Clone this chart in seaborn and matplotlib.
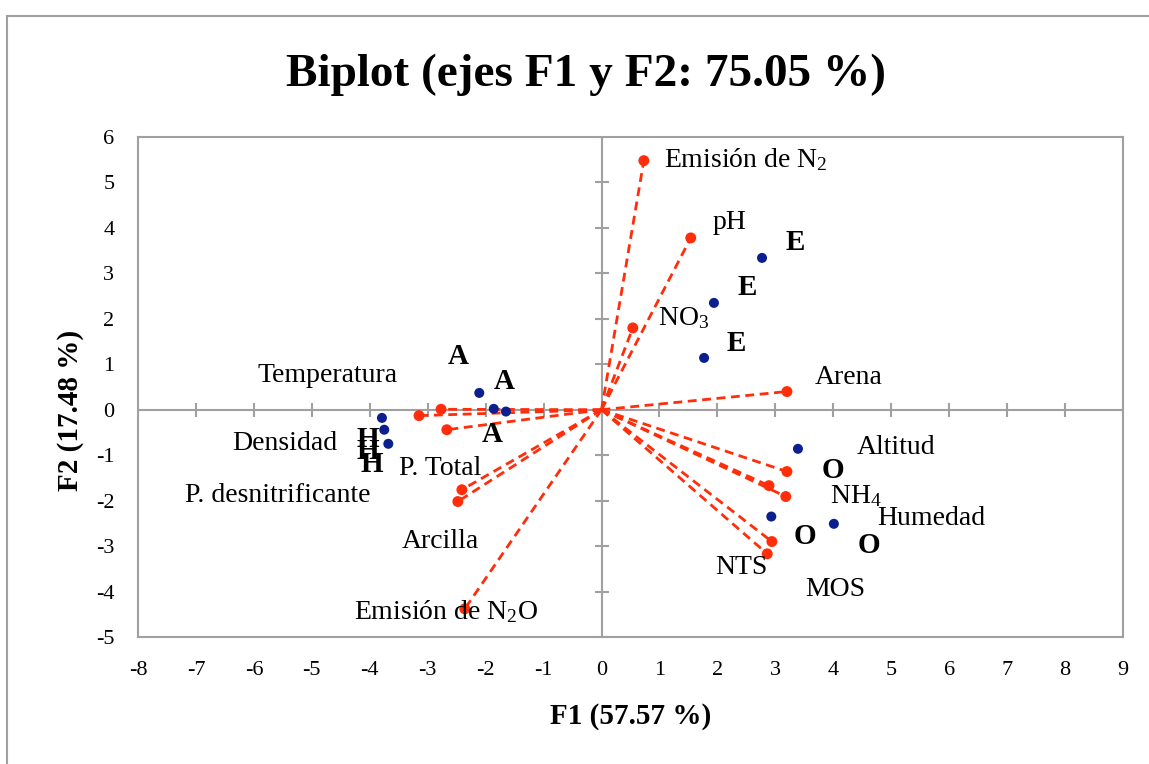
import numpy as np
import pandas as pd
import matplotlib
matplotlib.use("Agg")
import matplotlib.pyplot as plt
import seaborn as sns
from matplotlib.patches import Rectangle

# --- datos del biplot ---
variables = ['Emisión de N$_2$', 'pH', 'NO$_3$', 'Arena', 'Altitud', 'NH$_4$',
             'Humedad', 'MOS', 'NTS', 'Temperatura', 'Densidad', 'P. Total',
             'P. desnitrificante', 'Arcilla', 'Emisión de N$_2$O']
var_f1 = [0.73, 1.54, 0.54, 3.20, 3.20, 2.89, 3.18, 2.94, 2.86,
          -3.15, -2.77, -2.67, -2.41, -2.48, -2.36]
var_f2 = [5.48, 3.78, 1.80, 0.40, -1.36, -1.67, -1.91, -2.90, -3.17,
          -0.13, 0.01, -0.44, -1.76, -2.02, -4.38]

obs_labels = ['A', 'A', 'A', 'H', 'H', 'H', 'E', 'E', 'E', 'O', 'O', 'O']
obs_f1 = [-2.11, -1.86, -1.65, -3.79, -3.75, -3.68, 2.77, 1.94, 1.77, 3.39, 2.93, 4.01]
obs_f2 = [0.37, 0.02, -0.04, -0.18, -0.44, -0.75, 3.34, 2.35, 1.14, -0.86, -2.35, -2.51]

# desplazamiento de las etiquetas (pixeles)
var_offsets = [(20, 1), (22, 15), (25, 10), (28, 14), (70, 24), (61, -11),
               (91, -22), (33, -48), (-52, -14), (-162, 40), (-209, -34),
               (-48, -39), (-277, -6), (-56, -40), (-111, -3)]
obs_offsets = [(-21, 36), (10, 27), (-14, -23), (-14, -22), (-16, -22), (-16, -21),
               (33, 15), (33, 15), (32, 14), (35, -22), (34, -20), (35, -22)]

RED = '#ff2d0a'
BLUE = '#0b1f8f'
GRAY = '#a0a0a0'

sns.set_style("white")
plt.rcParams['font.family'] = ['Liberation Serif', 'DejaVu Serif']
plt.rcParams['mathtext.fontset'] = 'custom'
plt.rcParams['mathtext.rm'] = 'Liberation Serif'
plt.rcParams['mathtext.default'] = 'regular'
plt.rcParams['axes.unicode_minus'] = False
plt.rcParams['text.color'] = 'black'
plt.rcParams['xtick.color'] = 'black'
plt.rcParams['ytick.color'] = 'black'

W, H = 1149, 764
fig = plt.figure(figsize=(W / 100, H / 100), dpi=100)
ax = fig.add_axes([138 / W, 1 - 637 / H, (1123 - 138) / W, (637 - 137) / H])

# marco exterior
fig.add_artist(Rectangle((7 / W, -0.1), 1.2, 1 - 16 / H + 0.1,
                         transform=fig.transFigure, fill=False,
                         edgecolor=GRAY, lw=1.5))

ax.set_xlim(-8, 9)
ax.set_ylim(-5, 6)
xt = np.arange(-8, 10)
yt = np.arange(-5, 7)
ax.set_xticks(xt)
ax.set_yticks(yt)
ax.tick_params(length=0, labelsize=16, pad=17, labelcolor='black')
for s in ax.spines.values():
    s.set_color(GRAY)
    s.set_linewidth(1.5)

# ejes centrales con marcas
ax.axhline(0, color=GRAY, lw=1.5, zorder=1)
ax.axvline(0, color=GRAY, lw=1.5, zorder=1)
ax.plot(xt, np.zeros_like(xt), ls='none', marker='|', ms=10, mew=1.5, color=GRAY, zorder=1)
ax.plot(np.zeros_like(yt), yt, ls='none', marker='_', ms=10, mew=1.5, color=GRAY, zorder=1)

# vectores de variables
for x, y in zip(var_f1, var_f2):
    ax.plot([0, x], [0, y], color=RED, lw=2, dashes=(3.2, 2), zorder=2)

var_df = pd.DataFrame({'F1': var_f1, 'F2': var_f2, 'var': variables})
obs_df = pd.DataFrame({'F1': obs_f1, 'F2': obs_f2, 'obs': obs_labels})
sns.scatterplot(data=var_df, x='F1', y='F2', color=RED, s=62, edgecolor='none', ax=ax, zorder=3)
sns.scatterplot(data=obs_df, x='F1', y='F2', color=BLUE, s=52, edgecolor='none', ax=ax, zorder=3)

for name, x, y, (dx, dy) in zip(variables, var_f1, var_f2, var_offsets):
    ax.annotate(name, (x, y), xytext=(dx, dy), textcoords='offset pixels',
                ha='left', va='center', fontsize=20, color='black', zorder=4)
for name, x, y, (dx, dy) in zip(obs_labels, obs_f1, obs_f2, obs_offsets):
    ax.annotate(name, (x, y), xytext=(dx, dy), textcoords='offset pixels',
                ha='center', va='center', fontsize=21, fontweight='bold',
                color='black', zorder=4)

ax.set_xlabel('')
ax.set_ylabel('')
fig.text(631 / W, 1 - 716 / H, 'F1 (57.57 %)', ha='center', va='center',
         fontsize=21, fontweight='bold', color='black')
fig.text(70 / W, 1 - 410 / H, 'F2 (17.48 %)', ha='center', va='center',
         fontsize=21, fontweight='bold', rotation=90, color='black')
fig.text(586 / W, 1 - 75 / H, 'Biplot (ejes F1 y F2: 75.05 %)', ha='center',
         va='center', fontsize=34, fontweight='bold', color='black')

fig.savefig('out.png', dpi=100)
